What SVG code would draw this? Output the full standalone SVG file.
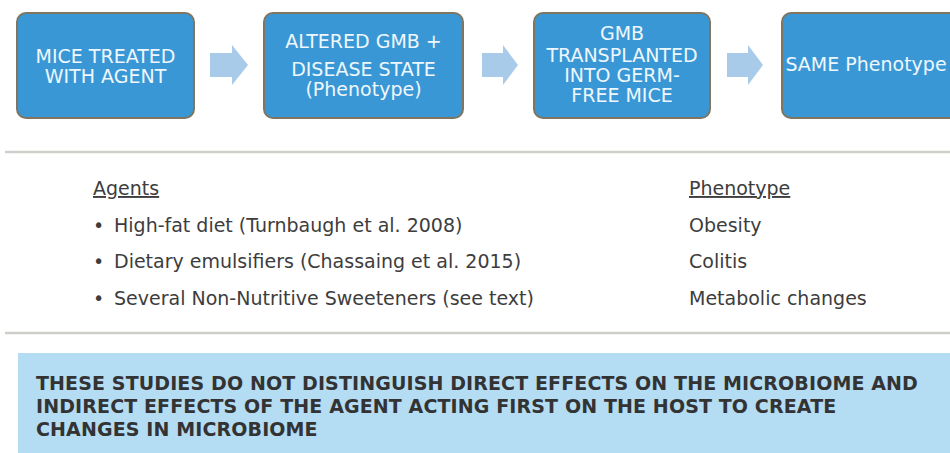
<svg xmlns="http://www.w3.org/2000/svg" width="950" height="453" viewBox="0 0 950 453">
<style>
.box{fill:#3a97d5;stroke:#7f7560;stroke-width:2}
.bt{font-family:"DejaVu Sans",Verdana,sans-serif;font-size:19px;fill:#eef7fd;text-anchor:middle}
.arr{fill:#a9cbea}
.sep{stroke:#cfcfca;stroke-width:2.5}
.lt{font-family:"DejaVu Sans",Verdana,sans-serif;font-size:19px;fill:#3d3d3d}
.nt{font-family:"DejaVu Sans",Verdana,sans-serif;font-size:19px;font-weight:bold;fill:#333;letter-spacing:0.12px}
</style>
<rect width="950" height="453" fill="#fff"/>
<g id="n1"><rect class="box" x="17" y="13" width="177" height="105" rx="9"/>
<text class="bt" x="105.5" y="63">MICE TREATED</text><text class="bt" x="105.5" y="83">WITH AGENT</text></g>
<g id="n2"><rect class="box" x="264" y="13" width="199" height="105" rx="9"/>
<text class="bt" x="363.5" y="48">ALTERED GMB +</text><text class="bt" x="363.5" y="76">DISEASE STATE</text><text class="bt" x="363.5" y="96">(Phenotype)</text></g>
<g id="n3"><rect class="box" x="534" y="13" width="176" height="105" rx="9"/>
<text class="bt" x="622" y="40">GMB</text><text class="bt" x="622" y="62">TRANSPLANTED</text><text class="bt" x="622" y="82">INTO GERM-</text><text class="bt" x="622" y="102">FREE MICE</text></g>
<g id="n4"><rect class="box" x="782" y="13" width="190" height="105" rx="9"/>
<text class="bt" x="866" y="71">SAME Phenotype</text></g>
<g id="connectors">
<polygon class="arr" points="210,53 232,53 232,45 248,65 232,85 232,77 210,77"/>
<polygon class="arr" points="482,53 503,53 503,45 518,65 503,85 503,77 482,77"/>
<polygon class="arr" points="727,53 748,53 748,45 763,65 748,85 748,77 727,77"/>
</g>
<line class="sep" x1="5" y1="152" x2="950" y2="152"/>
<line class="sep" x1="5" y1="333" x2="950" y2="333"/>
<g id="agents">
<text class="lt" x="93" y="195" text-decoration="underline">Agents</text>
<text class="lt" x="93" y="232">•</text><text class="lt" x="114" y="232">High-fat diet (Turnbaugh et al. 2008)</text>
<text class="lt" x="93" y="268">•</text><text class="lt" x="114" y="268">Dietary emulsifiers (Chassaing et al. 2015)</text>
<text class="lt" x="93" y="305">•</text><text class="lt" x="114" y="305">Several Non-Nutritive Sweeteners (see text)</text>
<text class="lt" x="689" y="195" text-decoration="underline">Phenotype</text>
<text class="lt" x="689" y="232">Obesity</text>
<text class="lt" x="689" y="268">Colitis</text>
<text class="lt" x="689" y="305">Metabolic changes</text>
</g>
<g id="note">
<rect x="18" y="353" width="940" height="105" fill="#b4dcf3"/>
<text class="nt" x="36" y="390">THESE STUDIES DO NOT DISTINGUISH DIRECT EFFECTS ON THE MICROBIOME AND</text>
<text class="nt" x="36" y="413">INDIRECT EFFECTS OF THE AGENT ACTING FIRST ON THE HOST TO CREATE</text>
<text class="nt" x="36" y="436">CHANGES IN MICROBIOME</text>
</g>
</svg>
